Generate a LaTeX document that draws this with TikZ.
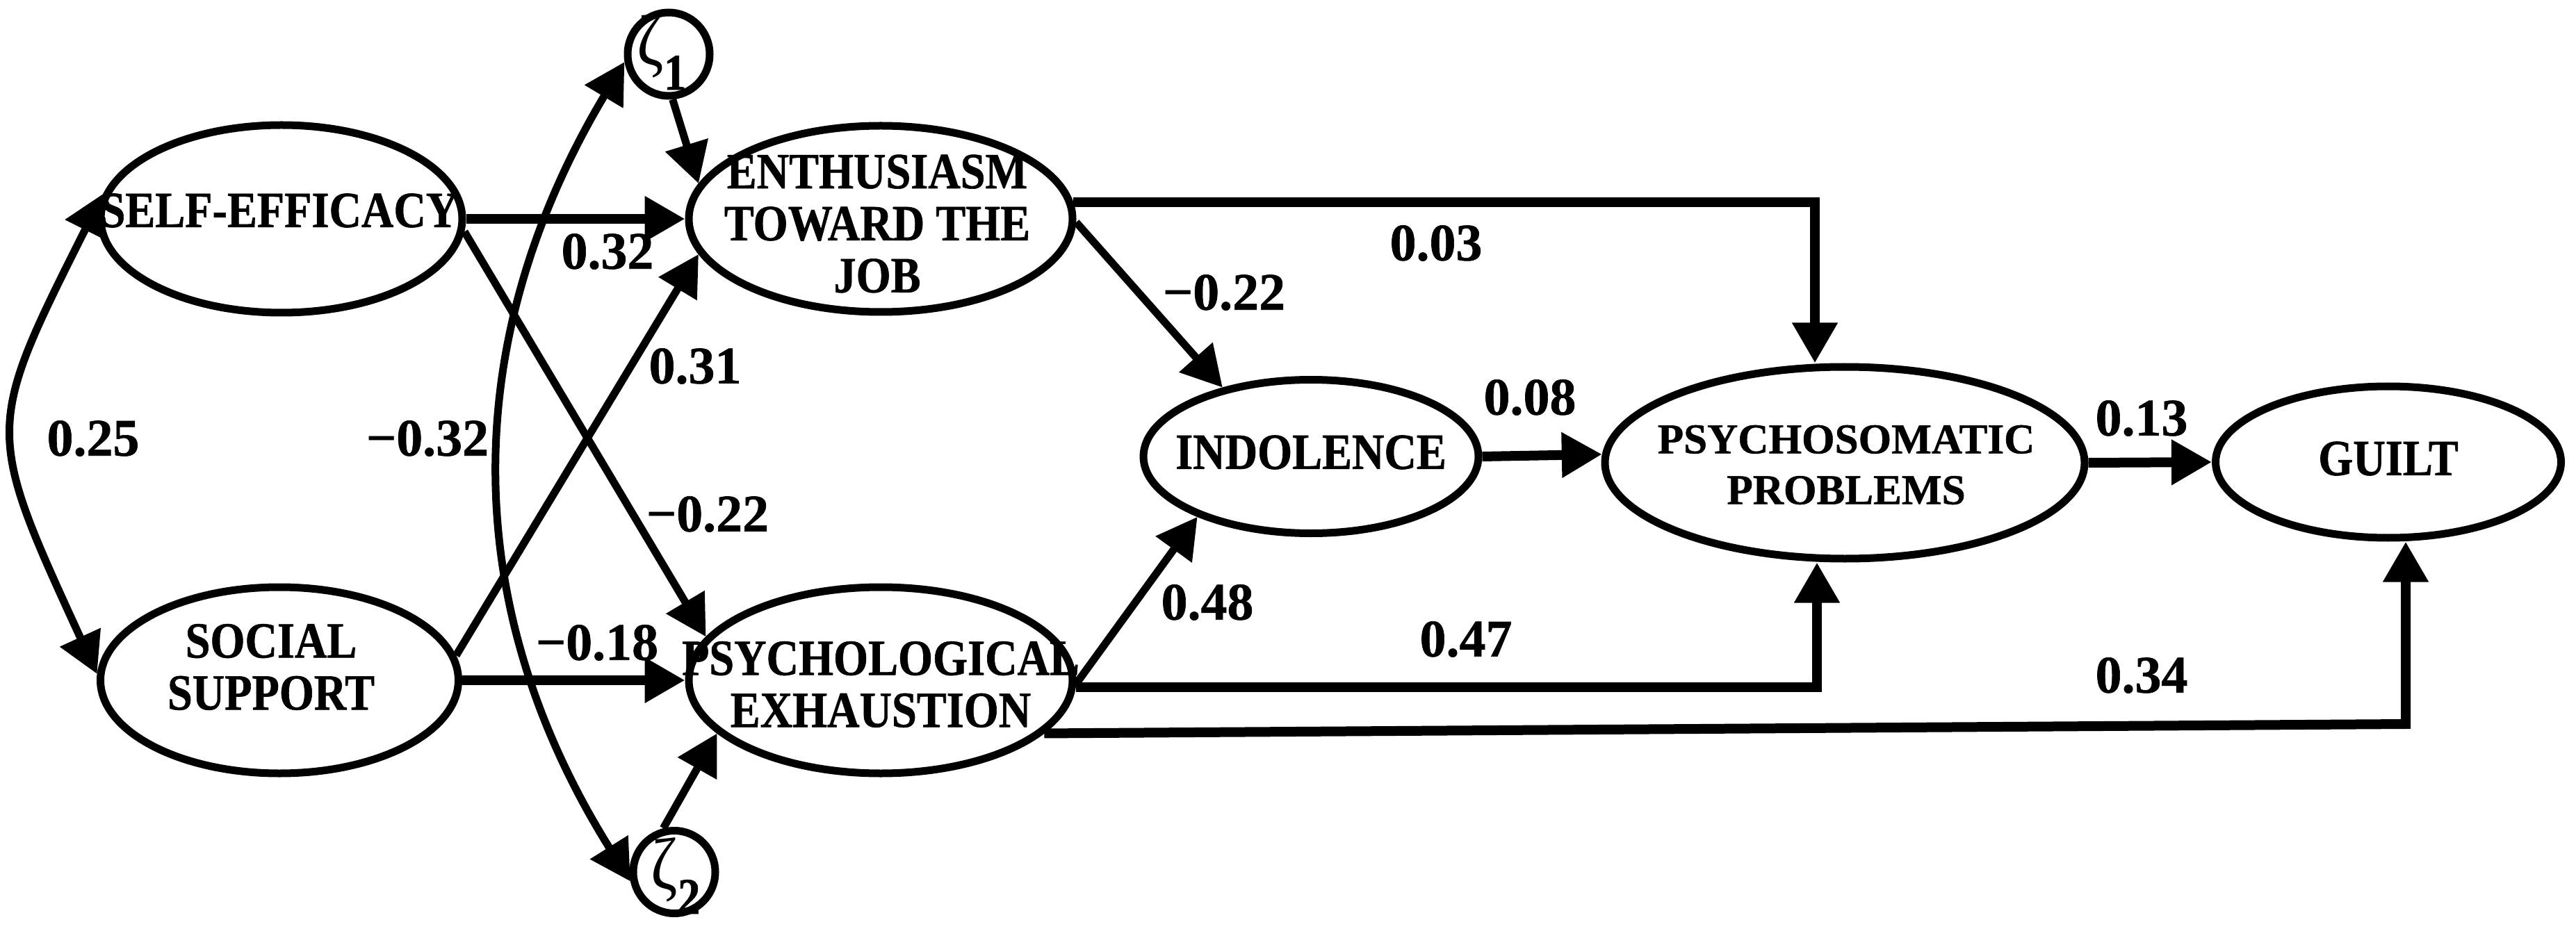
\documentclass[tikz,border=0pt]{standalone}
\usepackage{fontspec}
\setmainfont{Liberation Serif}
\newfontfamily\condf{Liberation Serif}[FakeStretch=0.88, BoldFeatures={FakeBold=0.8}]
\newfontfamily\numf{Liberation Serif}[BoldFeatures={FakeBold=0.8}]
\usetikzlibrary{arrows.meta,shapes.geometric,calc}
\begin{document}
\begin{tikzpicture}[
  ell/.style={draw, ellipse, line width=0.11cm, inner sep=0pt},
  nt/.style={font=\condf\bfseries\fontsize{20.8}{21.3}\selectfont, align=center, inner sep=0pt},
  pt/.style={font=\numf\bfseries\fontsize{17.4}{20.8}\selectfont, align=center, inner sep=0pt},
  zt/.style={font=\condf\fontsize{30}{30}\selectfont, inner sep=0pt},
  num/.style={font=\numf\bfseries\fontsize{21.6}{22}\selectfont, inner sep=0pt},
  arr/.style={line width=0.11cm, -{Triangle[length=0.58cm,width=0.62cm]}},
  thick arr/.style={line width=0.14cm, -{Triangle[length=0.58cm,width=0.62cm]}},
  darr/.style={line width=0.11cm, {Triangle[length=0.58cm,width=0.62cm]}-{Triangle[length=0.58cm,width=0.62cm]}},
]
\useasboundingbox (0,0) rectangle (37.06,-13.37);

% latent variables
\node[ell, minimum width=5.2cm, minimum height=2.7cm] (se) at (4.05,-3.15) {};
\node[ell, minimum width=5.15cm, minimum height=2.68cm] (ss) at (4.02,-9.79) {};
\node[ell, minimum width=5.52cm, minimum height=2.68cm] (enth) at (12.67,-3.15) {};
\node[ell, minimum width=5.52cm, minimum height=2.68cm] (psych) at (12.67,-9.79) {};
\node[ell, minimum width=4.82cm, minimum height=2.21cm] (ind) at (18.86,-6.57) {};
\node[ell, minimum width=6.9cm, minimum height=2.76cm] (psom) at (26.54,-6.66) {};
\node[ell, minimum width=4.97cm, minimum height=2.18cm] (guilt) at (34.36,-6.65) {};
\node[ell, minimum width=1.18cm, minimum height=1.2cm] (z1) at (9.62,-0.78) {};
\node[ell, minimum width=1.18cm, minimum height=1.19cm] (z2) at (9.70,-12.55) {};

% texts
\node[nt] (se-t) at (4.02,-3.03) {SELF-EFFICACY};
\node[nt] (ss-t) at (3.90,-9.60) {SOCIAL\\SUPPORT};
\node[nt] (enth-t) at (12.62,-3.22) {ENTHUSIASM\\TOWARD THE\\JOB};
\node[nt] (psych-t) at (12.67,-9.85) {PSYCHOLOGICAL\\EXHAUSTION};
\node[nt] (ind-t) at (18.86,-6.51) {INDOLENCE};
\node[pt] (psom-t) at (26.56,-6.69) {PSYCHOSOMATIC\\PROBLEMS};
\node[nt] (guilt-t) at (34.36,-6.60) {GUILT};
\node[zt] (z1-t) at (9.52,-0.74) {ζ\raisebox{-0.36cm}{\bfseries\fontsize{21}{21}\selectfont 1}};
\node[zt] (z2-t) at (9.72,-12.60) {ζ\raisebox{-0.36cm}{\bfseries\fontsize{21}{21}\selectfont 2}};

% coefficients
\node[num] (l1) at (8.74,-3.62) {0.32};
\node[num] (l2) at (10.00,-5.27) {0.31};
\node[num] (l3) at (1.34,-6.31) {0.25};
\node[num] (l4) at (6.15,-6.31) {−0.32};
\node[num] (l5) at (10.18,-7.40) {−0.22};
\node[num] (l6) at (8.59,-9.25) {−0.18};
\node[num] (l7) at (17.61,-4.21) {−0.22};
\node[num] (l8) at (20.66,-3.50) {0.03};
\node[num] (l9) at (22.01,-5.72) {0.08};
\node[num] (l10) at (30.81,-6.02) {0.13};
\node[num] (l11) at (21.09,-9.20) {0.47};
\node[num] (l12) at (30.81,-9.72) {0.34};
\node[num] (l13) at (17.37,-8.67) {0.48};

% paths
\draw[thick arr] (se.east) -- (enth.west);
\draw[thick arr] (ss.east) -- (psych.west);
\draw[arr] (se.-4) -- (psych.166);
\draw[arr] (ss.8) -- (enth.191);
\draw[arr] (z1.-85) -- (enth.169);
\draw[arr] (z2.104) -- (psych.198);
\draw[arr] (enth.-1) -- (ind.142);
\draw[arr] (psych.-1) -- (ind.208);
\draw[thick arr] (enth.5) -| ([xshift=-0.43cm]psom.north);
\draw[thick arr] (psych.-2.5) -| ([xshift=-0.40cm]psom.south);
\coordinate (c34) at (34.61,-10.42);
\draw[thick arr] (psych.-18) -- (c34) -- ([xshift=0.25cm]guilt.south);
\draw[thick arr] (ind.east) -- (psom.178);
\draw[thick arr] (psom.east) -- (guilt.west);

% correlations
\draw[darr] (se.172) .. controls (-0.22,-6.18) and (-0.22,-6.18) .. (ss.178);
\draw[darr] (z1.190) .. controls (6.59,-4.9) and (6.59,-8.72) .. (z2.192);
\end{tikzpicture}
\end{document}
